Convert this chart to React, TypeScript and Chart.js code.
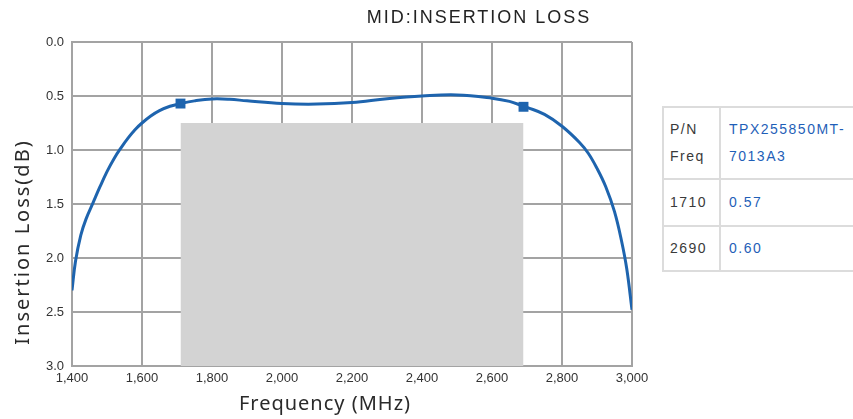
import React, { useEffect, useRef } from "react";
import { Chart, registerables } from "chart.js";

Chart.register(...registerables);

// ---- data ----
const chartTitle = "MID:INSERTION LOSS";
const xAxisTitle = "Frequency (MHz)";
const yAxisTitle = "Insertion Loss(dB)";

const freqMHz = [
  1400, 1410, 1425, 1440, 1460, 1480, 1500, 1520, 1540, 1560, 1580, 1600, 1625,
  1650, 1680, 1710, 1750, 1800, 1850, 1900, 2000, 2100, 2200, 2300, 2400, 2500,
  2600, 2650, 2690, 2700, 2750, 2800, 2850, 2875, 2900, 2925, 2950, 2970, 2985,
  3000,
];
const lossDb = [
  2.3, 2.03, 1.79, 1.64, 1.49, 1.34, 1.2, 1.08, 0.98, 0.89, 0.812, 0.75, 0.685,
  0.635, 0.595, 0.57, 0.545, 0.527, 0.53, 0.545, 0.57, 0.575, 0.56, 0.525, 0.5,
  0.49, 0.52, 0.55, 0.595, 0.605, 0.67, 0.78, 0.93, 1.03, 1.17, 1.34, 1.57,
  1.84, 2.1, 2.48,
];

const markerFreq = [1710, 2690];
const markerLoss = [0.57, 0.6];

const maskFreq = [1710, 2690];
const maskLoss = [0.75, 0.75];
const maskFloor = 3.0;

const xMin = 1400;
const xMax = 3000;
const xStep = 200;
const yMin = 0;
const yMax = 3;
const yStep = 0.5;

const tableHeaderLines = ["P/N", "Freq"];
const partNumberLines = ["TPX255850MT-", "7013A3"];
const tableFreqs = ["1710", "2690"];
const tableValues = ["0.57", "0.60"];

const lineColor = "#1e64ae";

const textPlugin = {
  id: "customTexts",
  afterDraw(chart: any) {
    const ctx = chart.ctx as CanvasRenderingContext2D;
    ctx.save();
    ctx.fillStyle = "#222";
    ctx.textAlign = "center";
    ctx.textBaseline = "middle";
    (ctx as any).letterSpacing = "2px";
    ctx.font = '18px "Liberation Sans"';
    ctx.fillText(chartTitle, 479, 18);

    ctx.fillStyle = "#2a2a2a";
    ctx.font = '20px "Noto Sans"';
    (ctx as any).letterSpacing = "1px";
    ctx.fillText(xAxisTitle, 325, 404);

    ctx.translate(23, 242);
    ctx.rotate(-Math.PI / 2);
    (ctx as any).letterSpacing = "2px";
    ctx.fillText(yAxisTitle, 0, 0);
    ctx.restore();
  },
};

export default function App() {
  const ref = useRef<HTMLCanvasElement>(null);

  useEffect(() => {
    const curve = freqMHz.map((f, i) => ({ x: f, y: lossDb[i] }));
    const markers = markerFreq.map((f, i) => ({ x: f, y: markerLoss[i] }));
    const mask = maskFreq.map((f, i) => ({ x: f, y: maskLoss[i] }));

    const chart = new Chart(ref.current as HTMLCanvasElement, {
      type: "line",
      data: {
        datasets: [
          {
            label: "mask",
            data: mask,
            borderWidth: 0,
            borderColor: "rgba(0,0,0,0)",
            backgroundColor: "#d3d3d3",
            fill: { value: maskFloor },
            pointRadius: 0,
            tension: 0,
            order: 3,
          },
          {
            label: "Insertion Loss",
            data: curve,
            borderColor: lineColor,
            borderWidth: 3,
            pointRadius: 0,
            fill: false,
            tension: 0.4,
            order: 2,
          },
          {
            label: "markers",
            data: markers,
            showLine: false,
            pointStyle: "rect",
            pointRadius: 7,
            backgroundColor: lineColor,
            borderColor: lineColor,
            borderWidth: 0,
            order: 1,
          },
        ],
      } as any,
      options: {
        animation: false,
        responsive: false,
        layout: { padding: { top: 42, right: 28, left: 0, bottom: 0 } },
        plugins: {
          legend: { display: false },
          tooltip: { enabled: false },
          title: { display: false },
        },
        scales: {
          x: {
            type: "linear",
            min: xMin,
            max: xMax,
            border: { display: true, color: "#a3a3a3", width: 2 },
            grid: { color: "#a3a3a3", lineWidth: 2, drawTicks: false },
            ticks: {
              stepSize: xStep,
              padding: 5,
              maxRotation: 0,
              autoSkip: false,
              color: "#333",
              font: { family: "Liberation Sans", size: 13 },
              callback: (v: any) => Number(v).toLocaleString("en-US"),
            },
            afterFit: (scale: any) => {
              scale.height = 53;
              scale.paddingLeft = 0;
              scale.paddingRight = 0;
            },
          },
          y: {
            type: "linear",
            min: yMin,
            max: yMax,
            reverse: true,
            border: { display: true, color: "#a3a3a3", width: 2 },
            grid: { color: "#a3a3a3", lineWidth: 2, drawTicks: false },
            ticks: {
              stepSize: yStep,
              padding: 8,
              color: "#333",
              font: { family: "Liberation Sans", size: 13 },
              callback: (v: any) => Number(v).toFixed(1),
            },
            afterFit: (scale: any) => {
              scale.width = 72;
            },
          },
        },
      } as any,
      plugins: [textPlugin],
    });
    return () => chart.destroy();
  }, []);

  const labelColor = "#3a3a3a";
  const valueColor = "#1f5fb8";
  const cellBorder = "2px solid #dcdcdc";
  const cellBase: React.CSSProperties = {
    border: cellBorder,
    padding: "0 6px",
    verticalAlign: "middle",
    fontFamily: '"Liberation Sans", sans-serif',
    fontSize: 14,
    letterSpacing: "1.5px",
    lineHeight: "27px",
    whiteSpace: "nowrap",
  };
  const valueCell: React.CSSProperties = {
    ...cellBase,
    color: valueColor,
    paddingLeft: 8,
    borderRight: "none",
  };

  return (
    <div
      style={{
        position: "fixed",
        left: 0,
        top: 0,
        width: 853,
        height: 419,
        overflow: "hidden",
        background: "#fff",
      }}
    >
      <canvas
        ref={ref}
        width={660}
        height={419}
        style={{ position: "absolute", left: 0, top: 0, width: 660, height: 419, display: "block" }}
      />
      <div style={{ position: "absolute", left: 662, top: 106, width: 320 }}>
        <table
          style={{
            borderCollapse: "collapse",
            tableLayout: "fixed",
            width: 320,
          }}
        >
          <colgroup>
            <col style={{ width: 57 }} />
            <col style={{ width: 263 }} />
          </colgroup>
          <tbody>
            <tr style={{ height: 72 }}>
              <td style={{ ...cellBase, color: labelColor }}>
                {tableHeaderLines.map((t) => (
                  <div key={t}>{t}</div>
                ))}
              </td>
              <td style={valueCell}>
                {partNumberLines.map((t) => (
                  <div key={t}>{t}</div>
                ))}
              </td>
            </tr>
            {tableFreqs.map((f, i) => (
              <tr key={f} style={{ height: i === 0 ? 47 : 45 }}>
                <td style={{ ...cellBase, color: labelColor }}>{f}</td>
                <td style={valueCell}>{tableValues[i]}</td>
              </tr>
            ))}
          </tbody>
        </table>
      </div>
    </div>
  );
}
